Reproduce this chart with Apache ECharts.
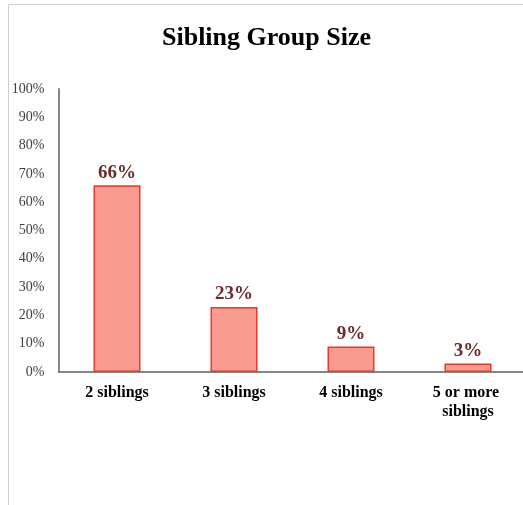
<!DOCTYPE html>
<html lang="en">
<head>
<meta charset="UTF-8">
<title>Sibling Group Size</title>
<script src="https://cdn.jsdelivr.net/npm/echarts@6/dist/echarts.min.js"></script>
<style>
  html, body { margin: 0; padding: 0; background: #fff; overflow: hidden; }
</style>
</head>
<body>
<div id="main" style="width: 540px;height: 505px"></div>
<script>
  const categories = ['2 siblings', '3 siblings', '4 siblings', '5 or more siblings'];
  const shares = [66, 23, 9, 3];
  const yTicks = [0, 10, 20, 30, 40, 50, 60, 70, 80, 90, 100];

  var chart = echarts.init(document.getElementById('main'));
  var serif = '"Liberation Serif", "Times New Roman", serif';
  var option = {
    animation: false,
    title: {
      text: 'Sibling Group Size',
      left: 157,
      top: 20,
      textStyle: { fontFamily: serif, fontSize: 26, fontWeight: 'bold', color: '#000' }
    },
    graphic: [
      { type: 'line', shape: { x1: 8.5, y1: 4.5, x2: 8.5, y2: 505 }, style: { stroke: '#cfcfcf', lineWidth: 1 } },
      { type: 'line', shape: { x1: 8.5, y1: 4.5, x2: 540, y2: 4.5 }, style: { stroke: '#cfcfcf', lineWidth: 1 } }
    ],
    grid: { left: 58.5, top: 89, width: 468, height: 283 },
    xAxis: {
      type: 'category',
      data: categories,
      axisLine: { lineStyle: { color: '#868686', width: 2 } },
      axisTick: { show: false },
      axisLabel: {
        interval: 0,
        margin: 11,
        width: 95,
        overflow: 'break',
        lineHeight: 19,
        fontFamily: serif, fontSize: 16, fontWeight: 'bold', color: '#000'
      }
    },
    yAxis: {
      type: 'value',
      min: yTicks[0],
      max: yTicks[yTicks.length - 1],
      interval: 10,
      axisLine: { show: true, lineStyle: { color: '#868686', width: 2 } },
      axisTick: { show: false },
      splitLine: { show: false },
      axisLabel: {
        margin: 14,
        formatter: '{value}%',
        fontFamily: serif, fontSize: 14, color: '#404040'
      }
    },
    series: [{
      type: 'bar',
      data: shares,
      barWidth: 47,
      itemStyle: { color: '#fa9b8f', borderColor: '#e8382a', borderWidth: 1.5 },
      label: {
        show: true,
        position: 'top',
        distance: 3,
        formatter: '{c}%',
        fontFamily: serif, fontSize: 19, fontWeight: 'bold', color: '#6e2a2a'
      }
    }]
  };
  chart.setOption(option);
</script>
</body>
</html>
